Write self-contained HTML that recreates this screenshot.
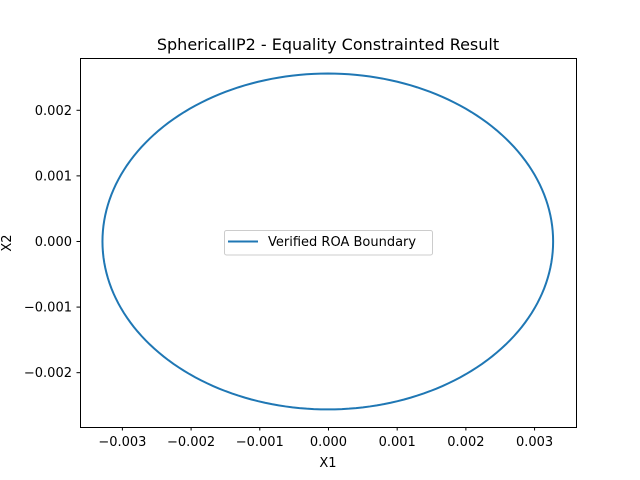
<!DOCTYPE html>
<html><head><meta charset="utf-8"><style>
body{margin:0;background:#fff}
svg{font-family:"DejaVu Sans","Liberation Sans",sans-serif;display:block}
</style></head><body>
<svg id="chart" width="640" height="480">
<rect width="640" height="480" fill="#fff"/>
<text x="328" y="50" font-size="16" text-anchor="middle">SphericalIP2 - Equality Constrainted Result</text>
<g id="plot"></g>
<rect x="80.5" y="58.5" width="496" height="369" fill="none" stroke="#000" stroke-width="1"/>
<text x="328" y="467" font-size="13" text-anchor="middle">X1</text>
<text x="0" y="0" font-size="13" text-anchor="middle" transform="translate(11,243) rotate(-90)">X2</text>
<g>
<rect x="224.5" y="230.5" width="208" height="24.5" rx="2" fill="#fff" fill-opacity="0.8" stroke="#ccc"/>
<line x1="228" y1="241.5" x2="258" y2="241.5" stroke="#1f77b4" stroke-width="2"/>
<text x="268" y="246" font-size="13">Verified ROA Boundary</text>
</g>
</svg>
<script>
const xTicks=[-0.003,-0.002,-0.001,0.000,0.001,0.002,0.003];
const xTickLabels=["−0.003","−0.002","−0.001","0.000","0.001","0.002","0.003"];
const yTicks=[-0.002,-0.001,0.000,0.001,0.002];
const yTickLabels=["−0.002","−0.001","0.000","0.001","0.002"];
const ellipseCenter=[-0.00001,0];
const ellipseRadii=[0.00328,0.00256];
const ns="http://www.w3.org/2000/svg";
const X0=80,X1=576,Y0=427,Y1=58;
const xmin=-0.003617,xmax=0.003603,ymin=-0.002828,ymax=0.002797;
function sx(v){return X0+(v-xmin)/(xmax-xmin)*(X1-X0);}
function sy(v){return Y0-(v-ymin)/(ymax-ymin)*(Y0-Y1);}
const g=document.getElementById('plot');
xTicks.forEach((t,i)=>{
 const l=document.createElementNS(ns,'line');
 l.setAttribute('x1',sx(t));l.setAttribute('x2',sx(t));l.setAttribute('y1',427);l.setAttribute('y2',430.5);l.setAttribute('stroke','#000');
 
 
 g.appendChild(l);
 const tx=document.createElementNS(ns,'text');
 tx.setAttribute('x',sx(t));tx.setAttribute('y',446);tx.setAttribute('font-size','13');tx.setAttribute('text-anchor','middle');
 tx.textContent=xTickLabels[i];
 
 
 g.appendChild(tx);
});
yTicks.forEach((t,i)=>{
 const l=document.createElementNS(ns,'line');
 l.setAttribute('x1',76.5);l.setAttribute('x2',80);l.setAttribute('y1',sy(t));l.setAttribute('y2',sy(t));l.setAttribute('stroke','#000');
 
 
 g.appendChild(l);
 const tx=document.createElementNS(ns,'text');
 tx.setAttribute('x',72);tx.setAttribute('y',sy(t)+4.5);tx.setAttribute('font-size','13');tx.setAttribute('text-anchor','end');
 tx.textContent=yTickLabels[i];
 
 
 g.appendChild(tx);
});
let d='';
for(let k=0;k<=200;k++){
 const a=Math.PI+k/200*2*Math.PI;
 const px=sx(ellipseCenter[0]+ellipseRadii[0]*Math.cos(a)), py=sy(ellipseCenter[1]+ellipseRadii[1]*Math.sin(a));
 d+=(k?'L':'M')+px.toFixed(2)+','+py.toFixed(2);
}
const p=document.createElementNS(ns,'path');
p.setAttribute('d',d);p.setAttribute('fill','none');p.setAttribute('stroke','#1f77b4');p.setAttribute('stroke-width','2');


g.appendChild(p);
</script>
</body></html>
